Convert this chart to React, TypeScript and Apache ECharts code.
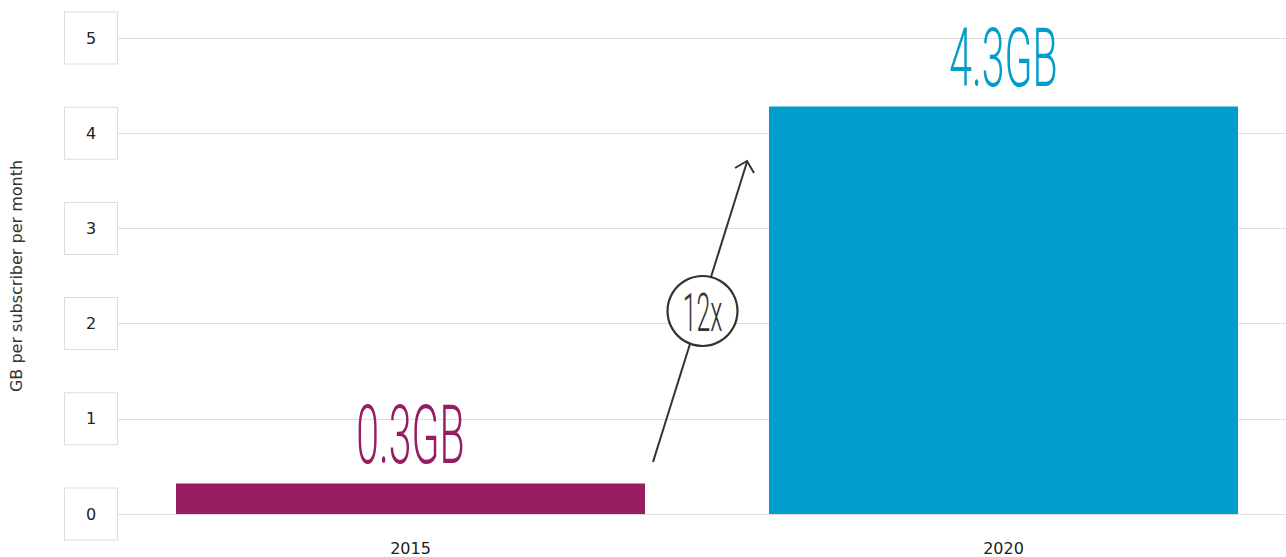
import React, { useEffect, useRef } from "react";
import * as echarts from "echarts";

const categories = ["2015", "2020"];
const values = [0.32, 4.28];
const barLabels = ["0.3GB", "4.3GB"];
const barColors = ["#961d60", "#019dcc"];
const yTicks = [0, 1, 2, 3, 4, 5];
const yAxisName = "GB per subscriber per month";
const growthLabel = "12x";

export default function App() {
  const ref = useRef<HTMLDivElement>(null);
  useEffect(() => {
    document.body.style.margin = "0";
    const chart = echarts.init(ref.current!, null, { renderer: "svg" });
    const condensed = "Roboto, 'Liberation Sans', Arial, sans-serif";
    const plain = "'DejaVu Sans', 'Noto Sans', sans-serif";
    chart.setOption({
      animation: false,
      grid: { left: 114, width: 1186, top: 38, bottom: 43, outerBoundsMode: "none", containLabel: false },
      xAxis: {
        type: "category",
        data: categories,
        axisLine: { show: false },
        axisTick: { show: false },
        axisLabel: { color: "#222", fontSize: 16, fontFamily: plain, margin: 26 },
      },
      yAxis: {
        type: "value",
        min: yTicks[0],
        max: yTicks[yTicks.length - 1],
        interval: 1,
        name: yAxisName,
        nameLocation: "middle",
        nameGap: 90,
        nameTextStyle: { color: "#333", fontSize: 16, fontFamily: plain },
        axisLine: { show: false },
        axisTick: { show: false },
        splitLine: { lineStyle: { color: "#dddddd", width: 1 } },
        axisLabel: {
          color: "#222",
          fontSize: 16,
          fontFamily: plain,
          align: "center",
          verticalAlign: "middle",
          margin: 23,
          width: 52,
          height: 51,
          lineHeight: 51,
          backgroundColor: "#fff",
          borderColor: "#dddddd",
          borderWidth: 1,
        },
      },
      series: [
        {
          type: "bar",
          barWidth: 469,
          data: values.map((v, i) => ({ value: v, itemStyle: { color: barColors[i] } })),
          z: 2,
        },
        {
          type: "custom",
          z: 5,
          data: values.map((v, i) => [i, v]),
          renderItem: (params: any, api: any) => {
            const i = params.dataIndex;
            const p = api.coord([api.value(0), api.value(1)]);
            return {
              type: "text",
              x: p[0],
              y: p[1] - 7,
              scaleX: 0.5,
              style: {
                text: barLabels[i],
                x: 0,
                y: 0,
                fill: barColors[i],
                font: `300 82px ${condensed}`,
                align: "center",
                verticalAlign: "bottom",
              },
            };
          },
        },
      ],
      graphic: [
        {
          type: "line",
          shape: { x1: 653, y1: 462, x2: 747, y2: 162 },
          style: { stroke: "#333", lineWidth: 2 },
          z: 10,
        },
        {
          type: "polyline",
          shape: { points: [[735, 168], [747, 161], [754, 173]] },
          style: { stroke: "#333", lineWidth: 2, fill: null },
          z: 10,
        },
        {
          type: "circle",
          shape: { cx: 702.5, cy: 311, r: 35 },
          style: { fill: "#fff", stroke: "#333", lineWidth: 2.2 },
          z: 11,
        },
        {
          type: "text",
          x: 702.5,
          y: 313,
          scaleX: 0.47,
          style: {
            text: growthLabel,
            fill: "#333",
            font: `300 53px ${condensed}`,
            align: "center",
            verticalAlign: "middle",
          },
          z: 12,
        },
      ],
    });
    return () => chart.dispose();
  }, []);
  return <div ref={ref} style={{ width: 1286, height: 557 }} />;
}
